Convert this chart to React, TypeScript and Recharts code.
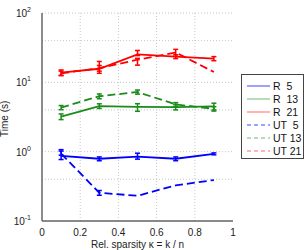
import React from "react";
import {
  LineChart,
  Line,
  XAxis,
  YAxis,
  CartesianGrid,
  ErrorBar,
  Legend,
} from "recharts";

const sparsity = [0.1, 0.3, 0.5, 0.7, 0.9];

const r5 = [0.87, 0.79, 0.85, 0.79, 0.93];
const r13 = [3.2, 4.55, 4.42, 4.4, 4.5];
const r21 = [13.8, 15.7, 25.3, 23.5, 22];
const ut5 = [0.94, 0.255, 0.231, 0.327, 0.39];
const ut13 = [4.33, 6.3, 7.25, 4.8, 4.15];
const ut21 = [13.5, 16.0, 21.2, 27, 14.1];

// [minus, plus]
const r5Err = [[0.1, 0.2], [0.05, 0.05], [0.07, 0.1], [0.05, 0.05], [0.03, 0.03]];
const r13Err = [[0.3, 0.3], [0.35, 0.35], [0.6, 0.5], [0.4, 0.4], [0.5, 0.5]];
const r21Err = [[1.2, 1.3], [2.2, 4.3], [1, 3.5], [1.5, 1.5], [1.5, 1.5]];
const ut5Err = [[0.05, 0.08], [0.02, 0.02], null, null, null];
const ut13Err = [[0.3, 0.3], [0.5, 0.5], [0.5, 0.5], [0.3, 0.3], [0.3, 0.3]];
const ut21Err = [[1, 1], [1.5, 1.5], [3.5, 1], [3.3, 2.9], null];

const yTicks = [0.1, 1, 10, 100];
const xTicks = [0, 0.2, 0.4, 0.6, 0.8, 1];
const minorY = [0.1, 0.2, 0.3, 0.4, 0.5, 0.6, 0.7, 0.8, 0.9, 1, 2, 3, 4, 5, 6, 7, 8, 9, 10, 20, 30, 40, 50, 60, 70, 80, 90, 100];

const series = [
  { key: "R5", name: "R  5", color: "#0000ff", legend: "#8080ff", dash: undefined, vals: r5, err: r5Err },
  { key: "R13", name: "R  13", color: "#1a8c1a", legend: "#9fd09f", dash: undefined, vals: r13, err: r13Err },
  { key: "R21", name: "R  21", color: "#ff0000", legend: "#ff9a9a", dash: undefined, vals: r21, err: r21Err },
  { key: "UT5", name: "UT  5", color: "#0000ff", legend: "#8080ff", dash: "8 4", vals: ut5, err: ut5Err },
  { key: "UT13", name: "UT 13", color: "#1a8c1a", legend: "#9fd09f", dash: "8 4", vals: ut13, err: ut13Err },
  { key: "UT21", name: "UT 21", color: "#ff0000", legend: "#ff9a9a", dash: "8 4", vals: ut21, err: ut21Err },
];

const data = sparsity.map((x, i) => {
  const row: any = { x };
  series.forEach((s) => {
    row[s.key] = s.vals[i];
    row[s.key + "_err"] = s.err[i] ?? undefined;
  });
  return row;
});

const font = "'Liberation Sans', Arial, sans-serif";

function PowTick({ x, y, payload }: any) {
  const exp = Math.round(Math.log10(payload.value));
  return (
    <text x={x - 3} y={y + 4} textAnchor="end" fontSize={10} fill="#222" fontFamily={font}>
      <tspan>10</tspan>
      <tspan dy={-5} fontSize={7}>{exp}</tspan>
    </text>
  );
}

function CustomLegend() {
  return (
    <div
      style={{
        position: "absolute",
        left: 241,
        top: 74,
        width: 63,
        height: 85,
        border: "1px solid #444",
        background: "#fff",
        boxSizing: "border-box",
        fontFamily: font,
        fontSize: 10.5,
        color: "#111",
        paddingTop: 4,
      }}
    >
      {series.map((s) => (
        <div key={s.key} style={{ display: "flex", alignItems: "center", height: 13 }}>
          <svg width={28} height={6} style={{ marginLeft: 3 }}>
            <line
              x1={2}
              y1={3}
              x2={25}
              y2={3}
              stroke={s.legend}
              strokeWidth={1.5}
              strokeDasharray={s.dash ? "4 3" : undefined}
            />
          </svg>
          <span style={{ whiteSpace: "pre" }}>{s.name}</span>
        </div>
      ))}
    </div>
  );
}

export default function App() {
  return (
    <div style={{ position: "absolute", left: 0, top: 0, width: 307, height: 250, background: "#fff" }}>
      <LineChart width={307} height={250} data={data} margin={{ top: 13, right: 74, bottom: 0, left: 0 }}>
        <CartesianGrid
          stroke="#c8c8c8"
          strokeDasharray="1 2"
          horizontalValues={minorY}
          verticalValues={[0.2, 0.4, 0.6, 0.8]}
        />
        <XAxis
          dataKey="x"
          type="number"
          domain={[0, 1]}
          ticks={xTicks}
          height={29}
          stroke="#666"
          strokeWidth={1.5}
          tickLine={false}
          tick={{ fontSize: 10, fill: "#222", fontFamily: font }}
          tickFormatter={(v: number) => String(v)}
          label={{ value: "Rel. sparsity \u03ba = k / n", position: "insideBottom", offset: 2, fontSize: 10, fill: "#222", fontFamily: font }}
        />
        <XAxis xAxisId="top" dataKey="x" type="number" domain={[0, 1]} orientation="top" height={0} tick={false} tickLine={false} stroke="#666" strokeWidth={1.5} />
        <YAxis
          scale="log"
          domain={[0.1, 100]}
          ticks={yTicks}
          width={42}
          allowDataOverflow
          stroke="#666"
          strokeWidth={1.5}
          tickLine={false}
          tick={<PowTick />}
          label={{ value: "Time (s)", angle: -90, position: "insideLeft", offset: 4, dy: 20, fontSize: 10, fill: "#222", fontFamily: font }}
        />
        <YAxis yAxisId="right" orientation="right" width={0} tick={false} tickLine={false} stroke="#666" strokeWidth={1.5} />
        {series.map((s) => (
          <Line
            key={s.key}
            dataKey={s.key}
            name={s.name}
            stroke={s.color}
            strokeWidth={1.8}
            strokeDasharray={s.dash}
            dot={false}
            isAnimationActive={false}
          >
            <ErrorBar dataKey={s.key + "_err"} width={2.5} stroke={s.color} strokeWidth={1.5} direction="y" />
          </Line>
        ))}
        <Legend content={() => null} />
      </LineChart>
      <CustomLegend />
    </div>
  );
}
